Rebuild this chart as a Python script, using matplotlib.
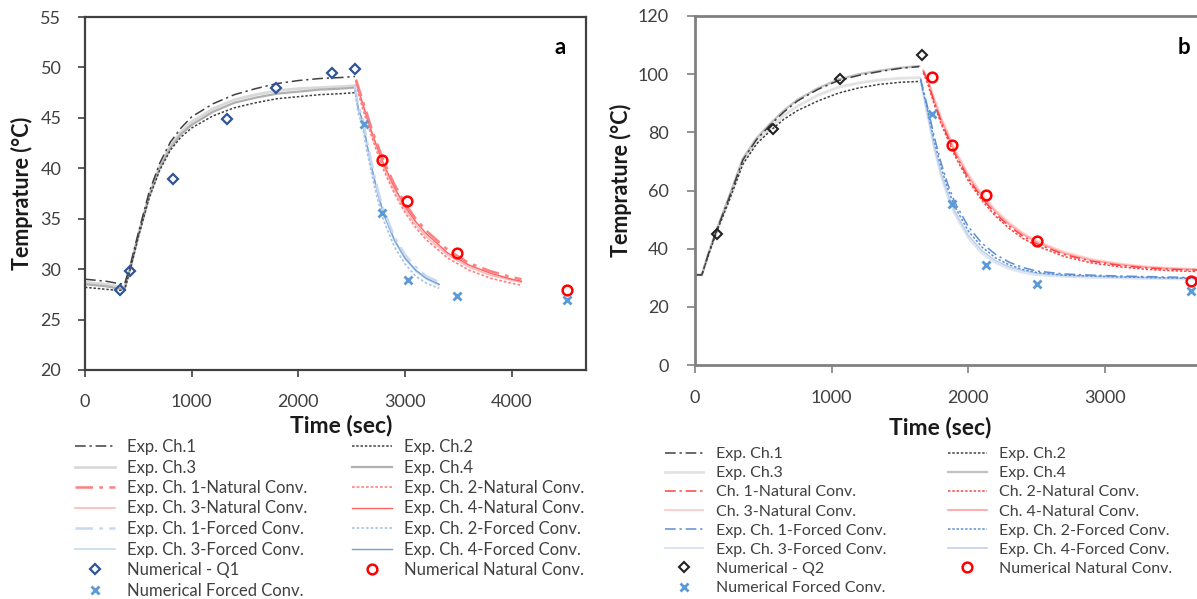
import matplotlib
matplotlib.use("Agg")
import matplotlib.pyplot as plt

plt.rcParams['font.family'] = ['Lato', 'DejaVu Sans']

W, H = 1197, 599

# ---------------- Panel a data ----------------
t_heat_a = [0, 100, 200, 300, 370, 420, 500, 600, 700, 800, 900, 1000, 1200, 1400, 1600, 1800, 2000, 2200, 2400, 2530]
a_ch1 = [29.0, 28.9, 28.8, 28.6, 28.5, 30.2, 33.6, 37.6, 40.5, 42.6, 44.0, 45.1, 46.4, 47.3, 47.9, 48.4, 48.7, 48.9, 49.0, 49.1]
a_ch2 = [28.2, 28.1, 28.0, 27.9, 27.9, 29.8, 33.2, 37.0, 39.8, 41.8, 43.1, 44.0, 45.2, 46.0, 46.5, 46.9, 47.1, 47.3, 47.4, 47.5]
a_ch3 = [28.7, 28.6, 28.5, 28.3, 28.2, 30.0, 33.4, 37.3, 40.2, 42.3, 43.6, 44.6, 45.9, 46.8, 47.3, 47.7, 47.9, 48.0, 48.1, 48.2]
a_ch4 = [28.5, 28.4, 28.3, 28.1, 28.0, 29.9, 33.3, 37.2, 40.0, 42.0, 43.4, 44.3, 45.6, 46.5, 47.0, 47.4, 47.6, 47.8, 47.9, 48.0]

t_nat_a = [2540, 2600, 2700, 2800, 2900, 3000, 3100, 3200, 3400, 3600, 3800, 4000, 4090]
a_nat1 = [48.8, 46.8, 43.5, 40.7, 38.4, 36.5, 35.0, 33.8, 31.9, 30.6, 29.8, 29.2, 29.0]
a_nat2 = [48.3, 46.0, 42.7, 39.8, 37.5, 35.6, 34.1, 32.9, 31.1, 29.9, 29.1, 28.6, 28.4]
a_nat3 = [48.5, 46.3, 43.0, 40.1, 37.8, 35.9, 34.4, 33.2, 31.4, 30.2, 29.4, 28.9, 28.7]
a_nat4 = [48.6, 46.5, 43.2, 40.4, 38.1, 36.2, 34.7, 33.5, 31.6, 30.4, 29.6, 29.0, 28.8]

t_for_a = [2530, 2560, 2600, 2650, 2700, 2750, 2800, 2900, 3000, 3100, 3200, 3320]
a_for1 = [48.2, 46.2, 45.0, 42.3, 39.8, 37.6, 35.8, 33.2, 31.4, 30.2, 29.3, 28.7]
a_for2 = [47.8, 45.5, 44.2, 41.3, 38.8, 36.6, 34.8, 32.2, 30.5, 29.3, 28.6, 28.1]
a_for3 = [48.0, 45.9, 44.7, 41.9, 39.4, 37.2, 35.4, 32.8, 31.0, 29.8, 29.0, 28.4]
a_for4 = [48.1, 46.0, 44.8, 42.0, 39.5, 37.3, 35.5, 32.9, 31.1, 29.9, 29.1, 28.5]

a_num_t = [327, 424, 827, 1330, 1790, 2318, 2527]
a_num_T = [27.9, 29.8, 38.9, 44.9, 48.0, 49.4, 49.8]
a_numnat_t = [2779, 3019, 3487, 4522]
a_numnat_T = [40.8, 36.8, 31.6, 27.9]
a_numfor_t = [2617, 2779, 3023, 3487, 4522]
a_numfor_T = [44.4, 35.6, 28.9, 27.3, 26.9]

# ---------------- Panel b data ----------------
t_heat_b = [0, 50, 100, 160, 250, 350, 450, 550, 650, 750, 900, 1050, 1200, 1350, 1500, 1640]
b_ch1 = [31.0, 31.0, 38.5, 46.5, 57.5, 70.5, 77.5, 82.5, 87.0, 90.8, 94.8, 97.8, 99.6, 100.9, 102.0, 102.6]
b_ch2 = [31.0, 31.0, 38.0, 46.0, 56.5, 69.0, 76.0, 80.5, 84.5, 87.5, 90.8, 93.5, 95.3, 96.5, 97.2, 97.5]
b_ch3 = [31.0, 31.0, 38.3, 46.3, 57.0, 69.8, 76.8, 81.5, 85.8, 89.0, 92.8, 95.5, 97.0, 98.0, 98.6, 98.8]
b_ch4 = [31.0, 31.0, 38.6, 46.8, 58.0, 71.0, 78.0, 83.0, 87.5, 91.2, 95.2, 98.2, 100.0, 101.2, 102.2, 102.8]

t_nat_b = [1670, 1700, 1750, 1800, 1900, 2000, 2100, 2200, 2300, 2400, 2500, 2700, 2900, 3100, 3300, 3500, 3700]
b_nat1 = [101.0, 97.8, 90.4, 83.8, 72.8, 64.1, 57.3, 51.9, 47.7, 44.3, 41.7, 38.0, 35.7, 34.3, 33.4, 32.9, 32.6]
b_nat2 = [100.5, 97.0, 89.6, 83.0, 72.0, 63.3, 56.5, 51.1, 46.9, 43.5, 41.0, 37.3, 35.1, 33.8, 32.9, 32.4, 32.1]
b_nat3 = [101.5, 98.8, 91.8, 85.3, 74.3, 65.6, 58.8, 53.2, 48.9, 45.4, 42.7, 38.9, 36.4, 34.9, 33.9, 33.3, 33.0]
b_nat4 = [101.2, 98.3, 91.1, 84.5, 73.5, 64.8, 58.0, 52.6, 48.3, 44.9, 42.2, 38.4, 36.0, 34.6, 33.6, 33.1, 32.8]

t_for_b = [1650, 1700, 1750, 1800, 1850, 1900, 2000, 2100, 2200, 2300, 2400, 2500, 2700, 2900, 3100, 3300, 3500, 3700]
b_for1 = [98.5, 89.0, 78.5, 69.5, 62.0, 56.0, 47.5, 41.8, 38.0, 35.3, 33.5, 32.3, 31.3, 30.9, 30.6, 30.4, 30.2, 30.0]
b_for2 = [98.0, 87.8, 77.0, 68.0, 60.5, 54.5, 46.0, 40.5, 36.8, 34.4, 32.8, 31.8, 30.9, 30.6, 30.3, 30.1, 29.9, 29.8]
b_for3 = [97.5, 85.8, 74.2, 64.8, 57.5, 51.8, 43.5, 38.2, 35.0, 33.0, 31.7, 30.9, 30.3, 30.0, 29.8, 29.6, 29.5, 29.4]
b_for4 = [97.8, 86.7, 75.2, 66.0, 58.7, 52.9, 44.5, 39.2, 35.8, 33.7, 32.4, 31.5, 30.8, 30.5, 30.3, 30.1, 29.9, 29.8]

b_num_t = [159, 568, 1064, 1663]
b_num_T = [45.1, 81.0, 98.2, 106.6]
b_numnat_t = [1733, 1877, 2131, 2499, 3627]
b_numnat_T = [99.1, 75.6, 58.3, 42.8, 29.0]
b_numfor_t = [1733, 1877, 2131, 2499, 3627]
b_numfor_T = [86.2, 55.2, 34.4, 27.7, 25.3]

labels_a = ["Exp. Ch.1", "Exp. Ch.3", "Exp. Ch. 1-Natural Conv.", "Exp. Ch. 3-Natural Conv.",
            "Exp. Ch. 1-Forced Conv.", "Exp. Ch. 3-Forced Conv.", "Numerical - Q1", "Numerical Forced Conv.",
            "Exp. Ch.2", "Exp. Ch.4", "Exp. Ch. 2-Natural Conv.", "Exp. Ch. 4-Natural Conv.",
            "Exp. Ch. 2-Forced Conv.", "Exp. Ch. 4-Forced Conv.", "Numerical Natural Conv."]
labels_b = ["Exp. Ch.1", "Exp. Ch.3", "Ch. 1-Natural Conv.", "Ch. 3-Natural Conv.",
            "Exp. Ch. 1-Forced Conv.", "Exp. Ch. 3-Forced Conv.", "Numerical - Q2", "Numerical Forced Conv.",
            "Exp. Ch.2", "Exp. Ch.4", "Ch. 2-Natural Conv.", "Ch. 4-Natural Conv.",
            "Exp. Ch. 2-Forced Conv.", "Exp. Ch. 4-Forced Conv.", "Numerical Natural Conv."]

DASHDOT = (0, (7, 2.5, 1.5, 2.5))
DOT = (0, (1.6, 1.2))

fig = plt.figure(figsize=(W / 100, H / 100), dpi=100)

def px_axes(l, t, r, b):
    return fig.add_axes([l / W, 1 - b / H, (r - l) / W, (b - t) / H])

axA = px_axes(85, 17, 585.5, 370)
axB = px_axes(695, 16, 695 + 546.8, 365)

def style_axis(ax, spine_color, spine_w, tick_len, ypad, xpad):
    for s in ax.spines.values():
        s.set_color(spine_color)
        s.set_linewidth(spine_w)
    ax.tick_params(axis='both', direction='out', length=tick_len, width=1.2,
                   color=spine_color, labelsize=13, labelcolor='#404040')
    ax.tick_params(axis='y', pad=ypad)
    ax.tick_params(axis='x', pad=xpad)

def draw(ax, series, num):
    handles = {}
    for (t, y, c, ls, lw, key) in series:
        h, = ax.plot(t, y, color=c, linestyle=ls, linewidth=lw, zorder=2)
        handles[key] = h
    for (t, y, mk, c, ms, mew, key) in num:
        h, = ax.plot(t, y, linestyle='none', marker=mk, markerfacecolor='none',
                     markeredgecolor=c, markersize=ms, markeredgewidth=mew, zorder=4)
        handles[key] = h
    return handles

ca = dict(e1='#404040', e2='#404040', e3='#d9d9d9', e4='#b0b0b0',
          n1='#ff8080', n2='#ff8080', n3='#ffb8b8', n4='#ff6060',
          f1='#c6d9f1', f2='#a9c2e6', f3='#c6d9f1', f4='#6f9fd8',
          d='#2f5597', o='#ff0000', x='#5b9bd5')
series_a = [
    (t_heat_a, a_ch3, ca['e3'], '-', 2.0, 'e3'),
    (t_heat_a, a_ch4, ca['e4'], '-', 1.6, 'e4'),
    (t_heat_a, a_ch1, ca['e1'], DASHDOT, 1.1, 'e1'),
    (t_heat_a, a_ch2, ca['e2'], DOT, 1.1, 'e2'),
    (t_nat_a, a_nat3, ca['n3'], '-', 1.2, 'n3'),
    (t_nat_a, a_nat4, ca['n4'], '-', 1.0, 'n4'),
    (t_nat_a, a_nat1, ca['n1'], DASHDOT, 1.8, 'n1'),
    (t_nat_a, a_nat2, ca['n2'], DOT, 1.2, 'n2'),
    (t_for_a, a_for3, ca['f3'], '-', 1.2, 'f3'),
    (t_for_a, a_for4, ca['f4'], '-', 1.0, 'f4'),
    (t_for_a, a_for1, ca['f1'], DASHDOT, 1.8, 'f1'),
    (t_for_a, a_for2, ca['f2'], DOT, 1.2, 'f2'),
]
num_a = [
    (a_num_t, a_num_T, 'D', ca['d'], 5, 1.6, 'd'),
    (a_numnat_t, a_numnat_T, 'o', ca['o'], 7, 1.8, 'o'),
    (a_numfor_t, a_numfor_T, 'x', ca['x'], 6, 2.0, 'x'),
]
hA = draw(axA, series_a, num_a)
axA.set_xlim(0, 4691)
axA.set_ylim(20, 55)
axA.set_xticks([0, 1000, 2000, 3000, 4000])
axA.set_yticks([20, 25, 30, 35, 40, 45, 50, 55])
style_axis(axA, '#404040', 1.6, 5, 12, 12)

cb = dict(e1='#404040', e2='#404040', e3='#e3e3e3', e4='#c0c0c0',
          n1='#ff4040', n2='#ff4040', n3='#ffd0d0', n4='#ffa0a0',
          f1='#5b8fd6', f2='#5b8fd6', f3='#dce6f2', f4='#c0d0ea',
          d='#222222', o='#ff0000', x='#5b9bd5')
series_b = [
    (t_heat_b, b_ch3, cb['e3'], '-', 2.0, 'e3'),
    (t_heat_b, b_ch4, cb['e4'], '-', 1.6, 'e4'),
    (t_heat_b, b_ch1, cb['e1'], DASHDOT, 1.1, 'e1'),
    (t_heat_b, b_ch2, cb['e2'], DOT, 1.1, 'e2'),
    (t_nat_b, b_nat3, cb['n3'], '-', 1.4, 'n3'),
    (t_nat_b, b_nat4, cb['n4'], '-', 1.2, 'n4'),
    (t_nat_b, b_nat1, cb['n1'], DASHDOT, 1.1, 'n1'),
    (t_nat_b, b_nat2, cb['n2'], DOT, 1.1, 'n2'),
    (t_for_b, b_for3, cb['f3'], '-', 1.4, 'f3'),
    (t_for_b, b_for4, cb['f4'], '-', 1.2, 'f4'),
    (t_for_b, b_for1, cb['f1'], DASHDOT, 1.1, 'f1'),
    (t_for_b, b_for2, cb['f2'], DOT, 1.1, 'f2'),
]
num_b = [
    (b_num_t, b_num_T, 'D', cb['d'], 5, 1.5, 'd'),
    (b_numnat_t, b_numnat_T, 'o', cb['o'], 7, 1.8, 'o'),
    (b_numfor_t, b_numfor_T, 'x', cb['x'], 6, 2.0, 'x'),
]
hB = draw(axB, series_b, num_b)
axB.set_xlim(0, 4000)
axB.set_ylim(0, 120)
axB.set_xticks([0, 1000, 2000, 3000])
axB.set_yticks([0, 20, 40, 60, 80, 100, 120])
style_axis(axB, '#808080', 2.0, 6, 13, 12)

order = ['e1', 'e3', 'n1', 'n3', 'f1', 'f3', 'd', 'x', 'e2', 'e4', 'n2', 'n4', 'f2', 'f4', 'o']

def make_legend(handles, labels, x, y, fs, hl, htp, colsp, lsp):
    hs = [handles[k] for k in order]
    leg = fig.legend(hs, labels, ncol=2, loc='upper left', bbox_to_anchor=(x / W, 1 - y / H),
                     frameon=False, fontsize=fs, handlelength=hl, handletextpad=htp,
                     columnspacing=colsp, labelspacing=lsp, borderpad=0, borderaxespad=0,
                     numpoints=1)
    for t in leg.get_texts():
        t.set_color('#404040')
    return leg

make_legend(hA, labels_a, 75, 439, 12, 2.4, 0.7, 2.7, 0.27)
make_legend(hB, labels_b, 665, 447, 11.5, 2.4, 0.8, 3.87, 0.31)

# axis labels
fig.text(22 / W, 1 - 193 / H, 'Temprature (°C)', rotation=90, ha='center', va='center',
         fontsize=15.5, fontweight='bold', color='#1a1a1a')
fig.text(621 / W, 1 - 180 / H, 'Temprature (°C)', rotation=90, ha='center', va='center',
         fontsize=15.5, fontweight='bold', color='#1a1a1a')
fig.text(341 / W, 1 - 425 / H, 'Time (sec)', ha='center', va='center',
         fontsize=16.5, fontweight='bold', color='#1a1a1a')
fig.text(940 / W, 1 - 428 / H, 'Time (sec)', ha='center', va='center',
         fontsize=16.5, fontweight='bold', color='#1a1a1a')
fig.text(560 / W, 1 - 48 / H, 'a', ha='center', va='center', fontsize=16, fontweight='bold')
fig.text(1184 / W, 1 - 47 / H, 'b', ha='center', va='center', fontsize=16, fontweight='bold')

fig.savefig('out.png', dpi=100)
